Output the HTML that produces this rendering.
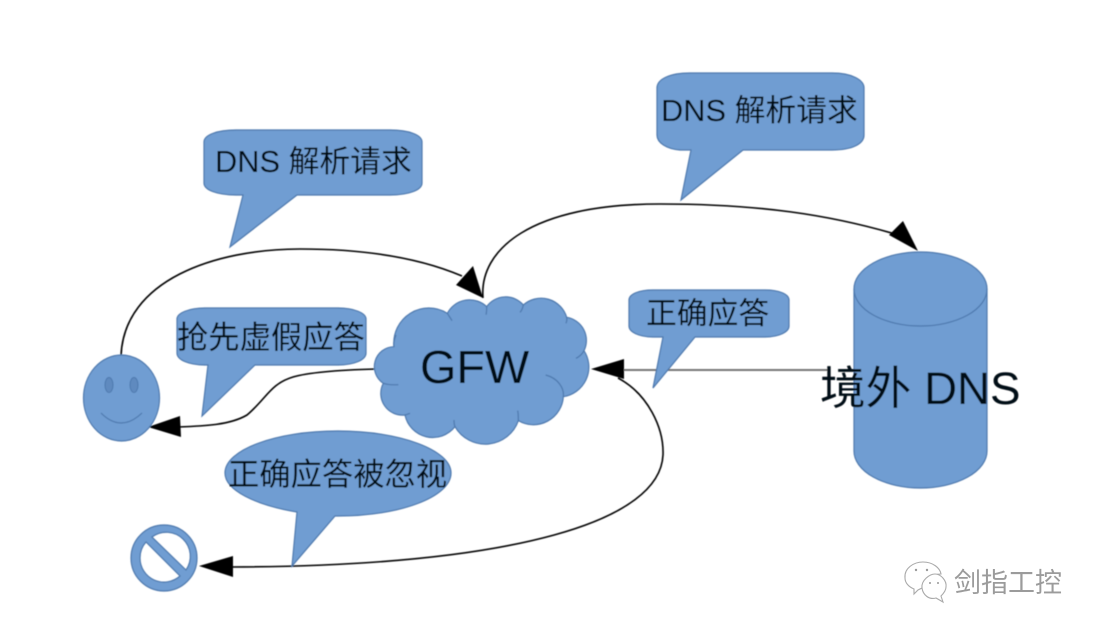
<!DOCTYPE html>
<html lang="zh">
<head>
<meta charset="utf-8">
<title>GFW DNS</title>
<style>
html,body{margin:0;padding:0;background:#fff}
svg{display:block}
text{font-family:"Liberation Sans","Noto Sans CJK SC",sans-serif;fill:#050a12}
.s{fill:#709dd2;stroke:#4d78ad;stroke-width:1.2}
.l{fill:none;stroke:#000;stroke-width:1.6}
</style>
</head>
<body>
<svg xmlns="http://www.w3.org/2000/svg" width="1097" height="631" viewBox="0 0 1097 631">
<defs><filter id="b" filterUnits="userSpaceOnUse" x="0" y="0" width="1097" height="631"><feGaussianBlur stdDeviation="0.4"/></filter></defs>
<rect width="1097" height="631" fill="#fff"/>
<g filter="url(#b)">

<!-- connectors -->
<path class="l" d="M121 356C124 280 215 249 300 249C365 249 420 258 462 276"/>
<path class="l" d="M483 298C479 250 530 204 660 204C760 204 830 215 895 234"/>
<path class="l" d="M376 369C340 370 310 372 293 377C270 384 267 398 247 415C230 425 205 426 178 427"/>
<path d="M828 370H622" fill="none" stroke="#777" stroke-width="2"/>
<path class="l" d="M618 378C648 394 664 428 663 455C660 520 520 566 230 567"/>

<!-- arrowheads -->
<polygon points="483,298 456,285 473,266" fill="#000"/>
<polygon points="918,251 889,235 903,221" fill="#000"/>
<polygon points="148,427 180,416 181,437" fill="#000"/>
<polygon points="591,369 624,359 624,379" fill="#000"/>
<polygon points="199,566 233,556 233,577" fill="#000"/>

<!-- callouts -->
<path class="s" d="M691 150H680C667 149 657 143 657 135V88C657 79 670 73 690 73H832C852 73 864 80 864 88V135C864 144 852 150 832 150H743L681 200Z"/>
<path class="s" d="M243 195H236C217 195 204 190 204 183V142C204 135 217 130 236 130H390C409 130 422 135 422 142V183C422 190 409 195 390 195H297L230 247Z"/>
<path class="s" d="M208 365H205C189 365 177 360 177 353V319C177 313 189 308 205 308H338C354 308 366 313 366 319V353C366 360 354 365 338 365H255L202 416Z"/>
<path class="s" d="M663 337H653C639 337 629 332 629 326V300C629 294 639 290 653 290H765C779 290 789 294 789 300V326C789 332 779 337 765 337H695L653 388Z"/>
<path class="s" d="M297 512C255 505 225 490 225 473C225 450 275 431 338 431C400 431 451 450 451 473C451 497 400 516 338 516L335 516L292 566Z"/>

<!-- smiley -->
<ellipse class="s" cx="121.500" cy="398" rx="38" ry="43"/>
<ellipse cx="109" cy="385" rx="4" ry="7.500" fill="#5f8abf" stroke="#4d78ad"/>
<ellipse cx="134" cy="385" rx="4" ry="7.500" fill="#5f8abf" stroke="#4d78ad"/>
<path d="M101 413Q121 433 142 413" fill="none" stroke="#4d78ad" stroke-width="1.200"/>

<!-- prohibited sign -->
<path class="s" fill-rule="evenodd" d="M131 558a33 33 0 1 0 66 0a33 33 0 1 0 -66 0ZM140 558a24 24 0 0 1 6 -16l34 34a24 24 0 0 1 -40 -18ZM152 537a24 24 0 0 1 34 33Z"/>

<!-- cloud -->
<g transform="translate(370 280) scale(.33333)">
<path d="M72 200A105 105 0 0 1 232 100A75 75 0 0 1 350 80A70 70 0 0 1 460 75A80 80 0 0 1 590 112A70 70 0 0 1 642 212A90 90 0 0 1 580 350A90 90 0 0 1 445 422A105 105 0 0 1 255 440A85 85 0 0 1 105 405A65 65 0 0 1 40 310A60 60 0 0 1 72 200Z" fill="#709dd2" stroke="#4d78ad" stroke-width="3.600"/>
<path d="M72 200C70 190 72 180 78 165M232 100C237 108 242 115 246 122M350 80C350 90 350 98 348 104M460 75C458 85 455 92 450 97M590 112C592 120 590 125 588 130M642 212C635 225 628 230 618 235M580 350C583 325 565 295 527 285M445 422C445 410 445 400 443 392M255 440C253 435 252 428 252 420M105 405C110 403 115 402 120 400M40 310C55 315 70 315 85 314" fill="none" stroke="#4d78ad" stroke-width="3.600"/>
</g>

<!-- cylinder -->
<path class="s" d="M854 289A66.500 37 0 0 1 987 289V451A66.500 37 0 0 1 854 451Z"/>
<path d="M854 289A66.500 37 0 0 0 987 289" fill="none" stroke="#4d78ad" stroke-width="1.200"/>

<!-- labels -->
<text x="661" y="121" font-size="30.800">DNS 解析请求</text>
<text x="215" y="172" font-size="30.800">DNS 解析请求</text>
<text x="177" y="348" font-size="31.300">抢先虚假应答</text>
<text x="646" y="324" font-size="30.800">正确应答</text>
<text x="228" y="485" font-size="31.300">正确应答被忽视</text>
<text x="420" y="383" font-size="46.800">GFW</text>
<text x="820" y="404" font-size="45.700">境外 DNS</text>
</g>

<!-- watermark -->
<g fill="#fff" stroke="#aaa" stroke-width="1.100">
<path d="M905 578C904 568 914 562 923 562C933 562 940 568 941 574C933 574 922 578 922 588L918 590L914 594V589C909 587 905 583 905 578Z"/>
<path d="M922 588C921 580 930 574 935 574C941 574 947 581 946 587C946 591 943 594 941 596L943 602L936 598C929 600 923 595 922 588Z"/>
</g>
<g fill="#999">
<circle cx="916" cy="570" r="1.200"/><circle cx="927" cy="570" r="1.200"/>
<circle cx="930" cy="583" r="1"/><circle cx="938" cy="583" r="1"/>
</g>
<text x="954" y="592" font-size="27" style="fill:#9b9b9b">剑指工控</text>
</svg>
</body>
</html>
